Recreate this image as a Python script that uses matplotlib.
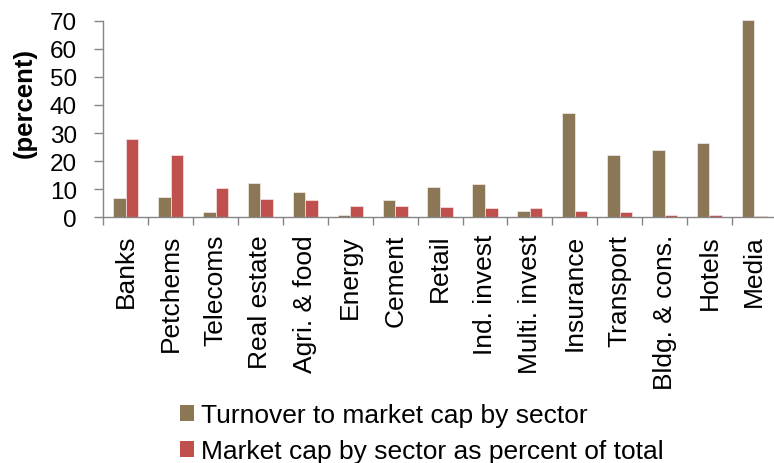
import matplotlib
matplotlib.use("Agg")
import matplotlib.pyplot as plt
import numpy as np
from matplotlib.patches import Patch

sectors = ["Banks", "Petchems", "Telecoms", "Real estate", "Agri. & food", "Energy",
           "Cement", "Retail", "Ind. invest", "Multi. invest", "Insurance", "Transport",
           "Bldg. & cons.", "Hotels", "Media"]
turnover = [7.0, 7.1, 1.9, 12.2, 9.0, 0.8, 6.0, 10.7, 11.7, 2.1, 37.1, 22.1, 23.8, 26.4, 70.2]
market_cap = [27.9, 22.3, 10.3, 6.5, 6.0, 4.1, 3.9, 3.6, 3.4, 3.2, 2.2, 1.8, 0.9, 0.9, 0.35]
yticks = [0, 10, 20, 30, 40, 50, 60, 70]

label_turnover = "Turnover to market cap by sector"
label_mcap = "Market cap by sector as percent of total"

c_turn = "#8B7755"
c_mcap = "#C0504D"
axis_grey = "#868686"

plt.rcParams["font.family"] = ["Liberation Sans", "DejaVu Sans"]

fig = plt.figure(figsize=(7.74, 4.64), dpi=100)
ax_w = 673.5
ax = fig.add_axes([103.3 / 774, 1 - 218.3 / 464, ax_w / 774, 196.6 / 464])

x = np.arange(len(sectors))
w = 0.28
ax.bar(x - w / 2, turnover, width=w, color=c_turn, edgecolor="#f4efe8", linewidth=0.5, clip_on=False)
ax.bar(x + w / 2, market_cap, width=w, color=c_mcap, edgecolor="#f6e6e6", linewidth=0.5, clip_on=False)

ax.set_xlim(-0.5, len(sectors) - 0.5)
ax.set_ylim(0, 70)
ax.set_yticks(yticks)
ax.set_yticklabels([str(v) for v in yticks])

ax.set_xticks(x)
ax.set_xticklabels(sectors, rotation=90, ha="center", va="top")
ax.set_xticks(np.arange(len(sectors) + 1) - 0.5, minor=True)
ax.tick_params(axis="x", which="major", length=0, pad=12, labelsize=19)
ax.tick_params(axis="x", which="minor", length=6.1, width=1.0, color=axis_grey, direction="out")
ax.tick_params(axis="y", length=6.5, width=1.0, color=axis_grey, direction="out", pad=12.4, labelsize=17.5)

for s in ["top", "right"]:
    ax.spines[s].set_visible(False)
for s in ["left", "bottom"]:
    ax.spines[s].set_color(axis_grey)
    ax.spines[s].set_linewidth(1.0)

ax.set_ylabel("(percent)", fontsize=18.5, fontweight="bold")
ax.yaxis.set_label_coords(-(103.3 - 37) / ax_w, 0.586)

handles = [Patch(facecolor=c_turn, edgecolor="none"), Patch(facecolor=c_mcap, edgecolor="none")]
fig.legend(handles, [label_turnover, label_mcap], loc="upper left",
           bbox_to_anchor=(180 / 774, 1 - 404.5 / 464), frameon=False, fontsize=19,
           handlelength=0.53, handleheight=0.53, handletextpad=0.27,
           labelspacing=0.45, borderpad=0, borderaxespad=0)

fig.savefig("out.png", dpi=100)
